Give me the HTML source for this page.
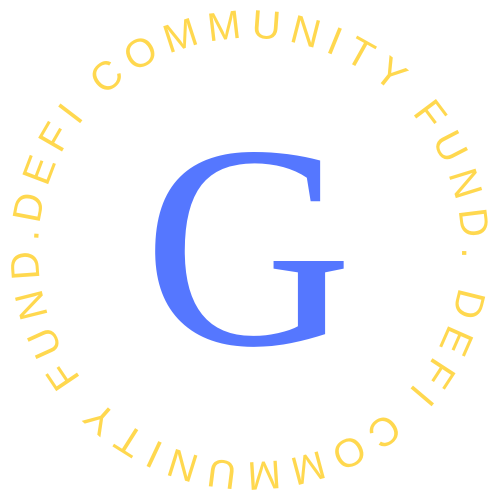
<!DOCTYPE html>
<html><head><meta charset="utf-8"><style>html,body{margin:0;padding:0;background:#fff;overflow:hidden}svg{display:block}</style></head>
<body>
<svg width="500" height="500" viewBox="0 0 500 500">
<defs>
<path id="ring" d="M 40.6 216.8 A 212 212 0 0 1 459.4 283.2 A 212 212 0 0 1 40.6 216.8"/>
</defs>
<g transform="rotate(-2 250 250)">
<text font-family="Liberation Sans, sans-serif" font-size="40" fill="#FFD84F" font-weight="normal">
<textPath href="#ring" textLength="1325" lengthAdjust="spacing">DEFI COMMUNITY FUND. DEFI COMMUNITY FUND. </textPath>
</text>
</g>
<text x="248" y="344" text-anchor="middle" font-family="Liberation Serif, serif" font-size="290" fill="#5577FF">G</text>
</svg>
</body></html>
